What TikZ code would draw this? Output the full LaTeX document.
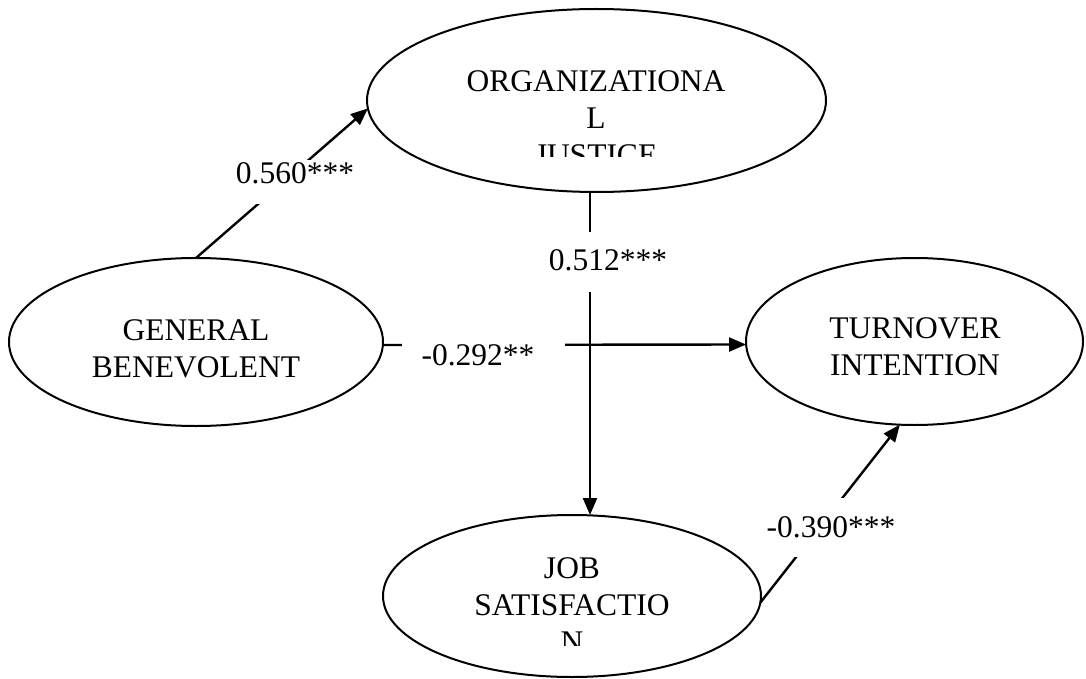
\documentclass[tikz,border=0pt]{standalone}
\usepackage{fontspec}
\setmainfont{Liberation Serif}
\usetikzlibrary{shapes.geometric,arrows.meta}
\begin{document}
\begin{tikzpicture}[x=1pt,y=-1pt,
  construct/.style={draw, ellipse, line width=2pt, inner sep=0pt, outer sep=0pt},
  ctext/.style={align=center, inner sep=0pt, font=\fontsize{31.5}{37}\selectfont},
  path/.style={line width=2.4pt, -{Triangle[length=17pt,width=14pt]}},
  coef/.style={fill=white, inner sep=0pt, anchor=base, font=\fontsize{31.5}{37}\selectfont}]
\useasboundingbox (0,0) rectangle (1086,679);
% constructs
\node[construct, minimum width=374pt, minimum height=168pt] (gen) at (196,342) {};
\node[construct, minimum width=459pt, minimum height=183pt] (org) at (596.5,100.5) {};
\node[construct, minimum width=337pt, minimum height=167pt] (turn) at (914.5,341.5) {};
\node[construct, minimum width=378pt, minimum height=162pt] (job) at (572,596) {};
% texts
\node[ctext] (gent) at (196,348.75) {GENERAL\\BENEVOLENT};
\node[ctext] (turnt) at (915,346.75) {TURNOVER\\INTENTION};
\begin{scope}
  \clip (380,0) rectangle (820,157);
  \node[ctext] (orgt) at (596,118.25) {ORGANIZATIONA\\L\\JUSTICE};
\end{scope}
\begin{scope}
  \clip (390,520) rectangle (760,645);
  \node[ctext] (jobt) at (572,604.75) {JOB\\SATISFACTIO\\N};
\end{scope}
% paths
\draw[path] (gen.north) -- (org.182);
\draw[path] ([yshift=-3pt]gen.east) -- ([yshift=-3pt]turn.west);
\draw[path] ([xshift=-6.5pt]org.south) -- ([xshift=-6.5pt]org.south |- job.north);
\draw[path] (job.-2) -- (turn.260);
% coefficients
\node[coef, text height=23pt, text depth=21pt] (c1) at (295,183) {0.560***};
\node[coef, text height=30pt, text depth=10pt, minimum width=163pt] (c2) at (483.5,365) {-0.292**\hspace*{11pt}};
\node[coef, text height=38pt, text depth=22pt] (c3) at (608,270) {0.512***};
\node[coef, text height=39pt, text depth=20pt] (c4) at (831,537) {-0.390***};
\end{tikzpicture}
\end{document}
